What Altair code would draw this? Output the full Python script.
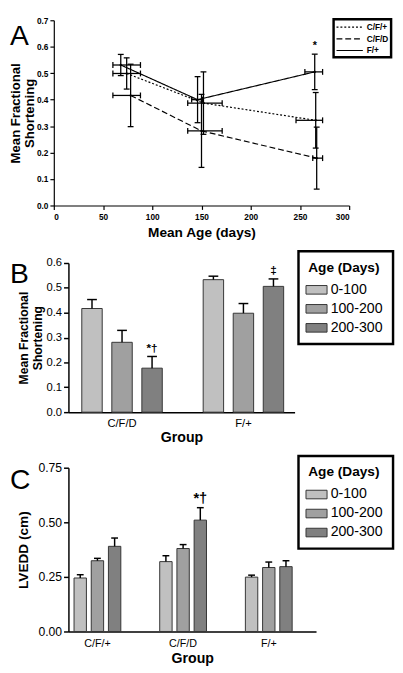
import altair as alt
import pandas as pd

FONT = "Liberation Sans"

# ---------------- Panel A data ----------------
a_series = ["C/F/+", "C/F/D", "F/+"]
a_cfplus_age = [74, 152, 266]
a_cfplus_fs = [0.499, 0.387, 0.322]
a_cfplus_fs_err = [0.059, 0.118, 0.105]
a_cfplus_age_lo = [60, 136, 246]
a_cfplus_age_hi = [88, 171, 273]

a_cfd_age = [78, 150, 267]
a_cfd_fs = [0.416, 0.282, 0.179]
a_cfd_fs_err = [0.118, 0.138, 0.117]
a_cfd_age_lo = [60, 136, 263]
a_cfd_age_hi = [88, 171, 273]

a_fplus_age = [68, 146, 265]
a_fplus_fs = [0.531, 0.400, 0.505]
a_fplus_fs_err = [0.040, 0.087, 0.067]
a_fplus_age_lo = [60, 140, 255]
a_fplus_age_hi = [88, 151, 273]
a_fplus_note = ["", "", "*"]

a_x_ticks = [0, 50, 100, 150, 200, 250, 300]
a_y_ticks = [0.0, 0.1, 0.2, 0.3, 0.4, 0.5, 0.6, 0.7]

# ---------------- Panel B data ----------------
age_bins = ["0-100", "100-200", "200-300"]
bar_colors = ["#c0c0c0", "#a0a0a0", "#808080"]
b_groups = ["C/F/D", "F/+"]
b_cfd_fs = [0.417, 0.281, 0.177]
b_cfd_err = [0.036, 0.048, 0.047]
b_cfd_note = ["", "", "*†"]
b_fplus_fs = [0.533, 0.398, 0.506]
b_fplus_err = [0.014, 0.039, 0.030]
b_fplus_note = ["", "", "‡"]
b_y_ticks = [0.0, 0.1, 0.2, 0.3, 0.4, 0.5, 0.6]

# ---------------- Panel C data ----------------
c_groups = ["C/F/+", "C/F/D", "F/+"]
c_cfplus_lvedd = [0.245, 0.324, 0.390]
c_cfplus_err = [0.015, 0.011, 0.038]
c_cfd_lvedd = [0.320, 0.380, 0.510]
c_cfd_err = [0.027, 0.018, 0.057]
c_cfd_note = ["", "", "*†"]
c_fplus_lvedd = [0.249, 0.293, 0.297]
c_fplus_err = [0.009, 0.025, 0.027]
c_y_ticks = [0.0, 0.25, 0.5, 0.75]

# ---------------- tables ----------------
rows = []
for s, ages, fs, err, lo, hi, notes in [
    ("C/F/+", a_cfplus_age, a_cfplus_fs, a_cfplus_fs_err, a_cfplus_age_lo, a_cfplus_age_hi, ["", "", ""]),
    ("C/F/D", a_cfd_age, a_cfd_fs, a_cfd_fs_err, a_cfd_age_lo, a_cfd_age_hi, ["", "", ""]),
    ("F/+", a_fplus_age, a_fplus_fs, a_fplus_fs_err, a_fplus_age_lo, a_fplus_age_hi, a_fplus_note),
]:
    for i in range(len(ages)):
        rows.append({"series": s, "age": ages[i], "fs": fs[i], "y_lo": fs[i] - err[i],
                     "y_hi": fs[i] + err[i], "age_lo": lo[i], "age_hi": hi[i], "note": notes[i]})
df_a = pd.DataFrame(rows)

caps_v = pd.concat([
    df_a[["age", "y_lo"]].rename(columns={"y_lo": "cy"}),
    df_a[["age", "y_hi"]].rename(columns={"y_hi": "cy"}),
])
caps_h = pd.concat([
    df_a[["age_lo", "fs"]].rename(columns={"age_lo": "cx"}),
    df_a[["age_hi", "fs"]].rename(columns={"age_hi": "cx"}),
])


def bar_table(groups, vals, errs, notes):
    out = []
    for g, v, e, n in zip(groups, vals, errs, notes):
        for k, a in enumerate(age_bins):
            out.append({"group": g, "age": a, "val": v[k], "hi": v[k] + e[k], "note": n[k]})
    return pd.DataFrame(out)


df_b = bar_table(b_groups, [b_cfd_fs, b_fplus_fs], [b_cfd_err, b_fplus_err], [b_cfd_note, b_fplus_note])
df_c = bar_table(c_groups, [c_cfplus_lvedd, c_cfd_lvedd, c_fplus_lvedd],
                 [c_cfplus_err, c_cfd_err, c_fplus_err], [["", "", ""], c_cfd_note, ["", "", ""]])

# ---------------- Panel A chart ----------------
A_W, A_H = 288, 190
xa_scale = alt.Scale(domain=[0, 300], range=[-15, A_W], nice=False, zero=False)
ya_scale = alt.Scale(domain=[0, 0.7], nice=False)
ax_a_x = alt.Axis(values=a_x_ticks, title="Mean Age (days)", grid=False, tickSize=4,
                  labelFont=FONT, labelFontSize=8.5, labelFontWeight="bold", labelPadding=3,
                  titleFont=FONT, titleFontSize=14, titleFontWeight="bold", titlePadding=5,
                  domainWidth=1.2, tickWidth=1.2)
ax_a_y = alt.Axis(values=a_y_ticks, format=".1f", offset=15, grid=False, tickSize=4,
                  title=["Mean Fractional", "Shortening"], titleLineHeight=14.5,
                  labelFont=FONT, labelFontSize=8.5, labelFontWeight="bold", labelPadding=2,
                  titleFont=FONT, titleFontSize=13.5, titleFontWeight="bold", titlePadding=0,
                  domainWidth=1.2, tickWidth=1.2)

base_a = alt.Chart(df_a)
a_lines = base_a.mark_line(color="black", strokeWidth=1.2).encode(
    x=alt.X("age:Q", scale=xa_scale, axis=ax_a_x),
    y=alt.Y("fs:Q", scale=ya_scale, axis=ax_a_y),
    strokeDash=alt.StrokeDash(
        "series:N",
        scale=alt.Scale(domain=a_series, range=[[2, 2], [6, 3], [1, 0]]),
        legend=alt.Legend(title=None, orient="none", legendX=272, legendY=-1,
                          strokeColor="black", fillColor="white", padding=2,
                          labelFont=FONT, labelFontSize=8.5, labelFontWeight="bold",
                          labelColor="black", labelOffset=20,
                          symbolType="M-1,0H4.4", symbolSize=100, symbolStrokeColor="black",
                          symbolStrokeWidth=1.2, symbolFillColor="transparent", rowPadding=1),
    ),
)
a_pts = base_a.mark_point(filled=True, size=10, shape="diamond", color="black", opacity=1).encode(
    x=alt.X("age:Q", scale=xa_scale, axis=ax_a_x),
    y=alt.Y("fs:Q", scale=ya_scale, axis=ax_a_y),
)
a_vrule = base_a.mark_rule(color="black", strokeWidth=1.3).encode(
    x=alt.X("age:Q", scale=xa_scale, axis=ax_a_x),
    y=alt.Y("y_lo:Q", scale=ya_scale, axis=ax_a_y),
    y2="y_hi:Q",
)
a_hrule = base_a.mark_rule(color="black", strokeWidth=1.3).encode(
    x=alt.X("age_lo:Q", scale=xa_scale, axis=ax_a_x),
    x2="age_hi:Q",
    y=alt.Y("fs:Q", scale=ya_scale, axis=ax_a_y),
)
a_vcaps = alt.Chart(caps_v).mark_tick(orient="horizontal", size=6, thickness=1.3, color="black", opacity=1).encode(
    x=alt.X("age:Q", scale=xa_scale, axis=ax_a_x),
    y=alt.Y("cy:Q", scale=ya_scale, axis=ax_a_y),
)
a_hcaps = alt.Chart(caps_h).mark_tick(orient="vertical", size=6, thickness=1.3, color="black", opacity=1).encode(
    x=alt.X("cx:Q", scale=xa_scale, axis=ax_a_x),
    y=alt.Y("fs:Q", scale=ya_scale, axis=ax_a_y),
)
a_note = base_a.transform_filter("datum.note != ''").mark_text(
    font=FONT, fontSize=11, fontWeight="bold", baseline="bottom", dy=-3, color="black").encode(
    x=alt.X("age:Q", scale=xa_scale, axis=ax_a_x),
    y=alt.Y("y_hi:Q", scale=ya_scale, axis=ax_a_y),
    text="note:N",
)
a_letter = alt.Chart(pd.DataFrame({"t": ["A"]})).mark_text(
    font=FONT, fontSize=29, align="left", baseline="top", color="black").encode(
    x=alt.value(-60), y=alt.value(2), text="t:N")

panel_a = alt.layer(a_lines, a_vrule, a_hrule, a_vcaps, a_hcaps, a_pts, a_note, a_letter).properties(
    width=A_W, height=A_H)


# ---------------- bar panels ----------------
def bar_panel(df, groups, pad_in, pad_out, align, sub_pad, ydomain, yticks, yfmt, ytitle,
              ytitle_size, ytitle_lh, ytitle_pad, ylabel_size, xlabel_size, xtitle_size,
              xtitle_pad, legend_y, letter, letter_y, note_size, cap, W, H):
    x = alt.X("group:N", sort=groups,
              scale=alt.Scale(paddingInner=pad_in, paddingOuter=pad_out, align=align),
              axis=alt.Axis(title="Group", labelAngle=0, ticks=False, grid=False,
                            domainWidth=1.5, labelFont=FONT, labelFontSize=xlabel_size,
                            labelPadding=6, titleFont=FONT, titleFontSize=xtitle_size,
                            titleFontWeight="bold", titlePadding=xtitle_pad))
    xo = alt.XOffset("age:N", sort=age_bins, scale=alt.Scale(paddingInner=sub_pad, paddingOuter=0))
    y_axis = alt.Axis(values=yticks, format=yfmt, grid=False, tickSize=5, tickWidth=1.5,
                      domainWidth=1.5, title=ytitle, titleLineHeight=ytitle_lh,
                      labelFont=FONT, labelFontSize=ylabel_size, labelPadding=2,
                      titleFont=FONT, titleFontSize=ytitle_size, titleFontWeight="bold",
                      titlePadding=ytitle_pad)
    y = alt.Y("val:Q", scale=alt.Scale(domain=ydomain, nice=False), axis=y_axis)
    color = alt.Color("age:N", sort=age_bins,
                      scale=alt.Scale(domain=age_bins, range=bar_colors),
                      legend=alt.Legend(title="Age (Days)", orient="none", legendX=236, legendY=legend_y,
                                        strokeColor="black", fillColor="white", padding=10,
                                        titleFont=FONT, titleFontSize=14, titleFontWeight="bold",
                                        titleColor="black", titlePadding=7,
                                        labelFont=FONT, labelFontSize=14.5, labelColor="black",
                                        labelOffset=6, symbolType="M-1.35,-0.55H1.35V0.55H-1.35Z",
                                        symbolSize=256, symbolStrokeColor="#333",
                                        symbolStrokeWidth=1, symbolOpacity=1, rowPadding=4.5))
    base = alt.Chart(df)
    bars = base.mark_bar(stroke="#333", strokeWidth=1).encode(x=x, xOffset=xo, y=y, color=color)
    err = base.mark_rule(color="black", strokeWidth=1.5).encode(x=x, xOffset=xo, y=y, y2="hi:Q")
    caps = base.mark_tick(orient="horizontal", size=cap, thickness=1.5, color="black", opacity=1).encode(
        x=x, xOffset=xo, y=alt.Y("hi:Q", scale=alt.Scale(domain=ydomain, nice=False), axis=y_axis))
    notes = base.transform_filter("datum.note != ''").mark_text(
        font=FONT, fontSize=note_size, fontWeight="bold", baseline="bottom", dy=-2, color="black").encode(
        x=x, xOffset=xo, y=alt.Y("hi:Q", scale=alt.Scale(domain=ydomain, nice=False), axis=y_axis),
        text="note:N")
    let = alt.Chart(pd.DataFrame({"t": [letter]})).mark_text(
        font=FONT, fontSize=29, align="left", baseline="alphabetic", color="black").encode(
        x=alt.value(-60), y=alt.value(letter_y), text="t:N")
    return alt.layer(bars, err, caps, notes, let).properties(width=W, height=H)


panel_b = bar_panel(df_b, b_groups, 0.337, 0.1, 0.55, 0.32, [0, 0.6], b_y_ticks, ".1f",
                    ["Mean Fractional", "Shortening"], 12.5, 13.5, 2, 11.5, 11.5, 14.5, 2,
                    -12, "B", 20, 12, 10, 232, 153)
panel_c = bar_panel(df_c, c_groups, 0.454, 0.172, 0.19, 0.28, [0, 0.75], c_y_ticks, ".2f",
                    "LVEDD (cm)", 14, 15, 8, 12.5, 11, 14.5, 4,
                    -12, "C", 22, 15, 7, 254, 168)

chart = alt.vconcat(panel_a, panel_b, panel_c, spacing=10).resolve_scale(
    color="independent", strokeDash="independent", x="independent", y="independent",
    xOffset="independent"
).resolve_legend(color="independent", strokeDash="independent").properties(
    padding={"left": 0, "top": 0, "right": 0, "bottom": 0}
).configure_view(stroke=None).configure_axis(
    labelColor="black", titleColor="black", domainColor="black", tickColor="black"
).configure_legend(strokeWidth=2.5)

chart.save("out.html", embed_options={"renderer": "svg", "actions": False})
